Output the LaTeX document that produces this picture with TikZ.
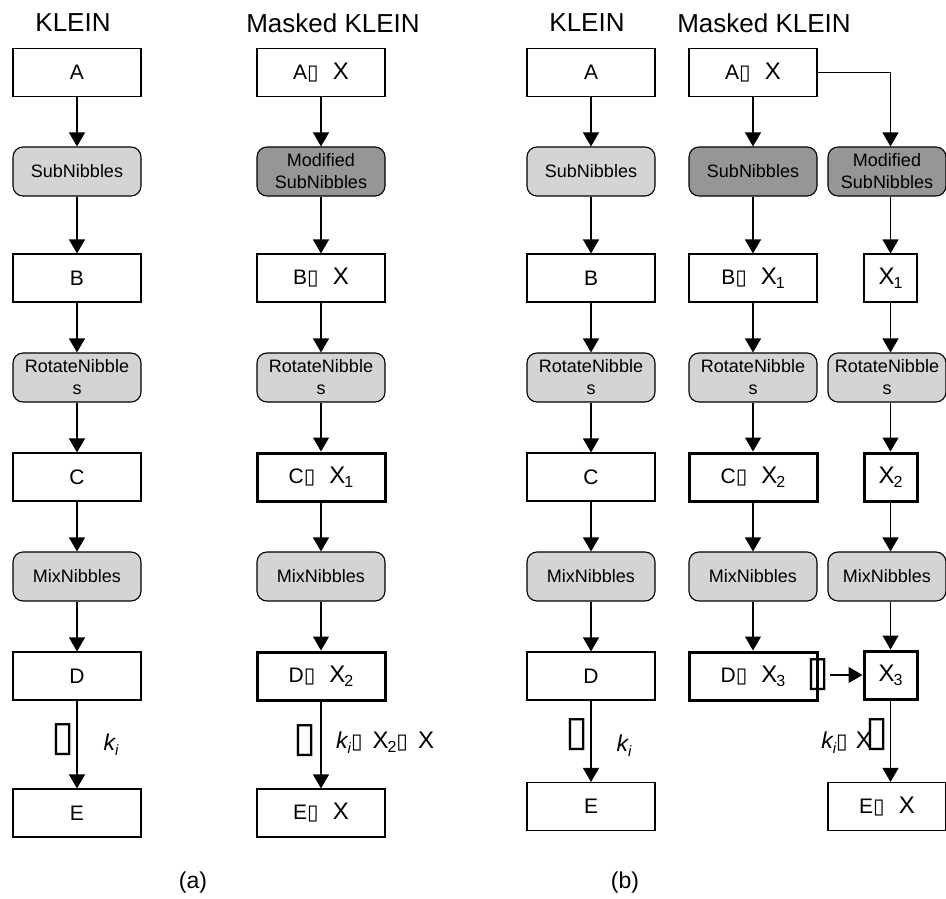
\documentclass[tikz,border=0pt]{standalone}
\usepackage{fontspec}
\setmainfont{Liberation Sans}
\newfontfamily\dejavu{DejaVu Sans}
\usetikzlibrary{arrows.meta,calc}
\definecolor{lightg}{RGB}{212,212,212}
\definecolor{darkg}{RGB}{150,150,150}
\newcommand\fsz[1]{\fontsize{#1}{22}\selectfont}
\newcommand\tf{{\dejavu\fsz{21}▯}}
\newcommand\bigtf{{\dejavu\fsz{42}▯}}
\newcommand\XX{{\fsz{24}X}}
\newcommand\Xs[1]{{\fsz{24}X}\kern-1pt\raisebox{-4pt}{\fsz{16}#1}}
\newcommand\ki{{\fsz{23}\itshape k}\raisebox{-5pt}{\fsz{15}\itshape i}}
\begin{document}
\begin{tikzpicture}[x=1pt,y=-1pt,
  box/.style={draw, line width=1.1pt, minimum width=128pt, minimum height=48pt, inner sep=0pt, font=\fsz{21}},
  tbox/.style={draw, line width=3pt, minimum width=128pt, minimum height=48pt, inner sep=0pt, font=\fsz{21}},
  sbox/.style={box, minimum width=53pt},
  tsbox/.style={tbox, minimum width=53pt},
  opl/.style={draw, line width=1.1pt, rounded corners=10pt, fill=lightg, minimum width=128pt, minimum height=49pt, inner sep=0pt, align=center, font=\fsz{18}},
  opd/.style={opl, fill=darkg},
  arr/.style={line width=1.1pt, -{Triangle[length=14pt,width=16pt]}},
  ttl/.style={font=\fsz{26}},
  tofu/.style={inner sep=0pt},
  lab/.style={inner sep=0pt}
]
\useasboundingbox (0,0) rectangle (946,899);

% titles
\node[ttl] (t1) at (73,23) {KLEIN};
\node[ttl] (t2) at (333,23) {Masked KLEIN};
\node[ttl] (t3) at (587,23) {KLEIN};
\node[ttl] (t4) at (764,23) {Masked KLEIN};

% column 1
\node[box] (a1) at (77,72.5) {A};
\node[opl] (s1) at (77,171.5) {SubNibbles};
\node[box] (b1) at (77,278) {B};
\node[opl] (r1) at (77,377.5) {RotateNibble\\s};
\node[box] (c1) at (77,477) {C};
\node[opl] (m1) at (77,576.5) {MixNibbles};
\node[box] (d1) at (77,676) {D};
\node[box] (e1) at (77,813) {E};
\node[tofu] (o1) at (63,740) {\bigtf};
\node[lab] (k1) at (111,745) {\ki};

% column 2
\node[box] (a2) at (321,72.5) {A\tf\hspace{14pt}\XX};
\node[opd] (s2) at (321,171.5) {Modified\\SubNibbles};
\node[box] (b2) at (321,278) {B\tf\hspace{14pt}\XX};
\node[opl] (r2) at (321,377.5) {RotateNibble\\s};
\node[tbox] (c2) at (321,477) {C\tf\hspace{14pt}\Xs{1}};
\node[opl] (m2) at (321,576.5) {MixNibbles};
\node[tbox] (d2) at (321,676) {D\tf\hspace{14pt}\Xs{2}};
\node[box] (e2) at (321,813) {E\tf\hspace{14pt}\XX};
\node[tofu] (o2) at (305,741) {\bigtf};
\node[lab, anchor=west] (k2) at (336,743) {\ki\tf\hspace{10pt}\Xs{2}\tf\hspace{10pt}\XX};

% column 3
\node[box] (a3) at (591,72.5) {A};
\node[opl] (s3) at (591,171.5) {SubNibbles};
\node[box] (b3) at (591,278) {B};
\node[opl] (r3) at (591,377.5) {RotateNibble\\s};
\node[box] (c3) at (591,477) {C};
\node[opl] (m3) at (591,576.5) {MixNibbles};
\node[box] (d3) at (591,676) {D};
\node[box] (e3) at (591,806.5) {E};
\node[tofu] (o3) at (577,735) {\bigtf};
\node[lab] (k3) at (624,746) {\ki};

% column 4
\node[box] (a4) at (753,72.5) {A\tf\hspace{14pt}\XX};
\node[opd] (s4) at (753,171.5) {SubNibbles};
\node[box] (b4) at (753,278) {B\tf\hspace{14pt}\Xs{1}};
\node[opl] (r4) at (753,377.5) {RotateNibble\\s};
\node[tbox] (c4) at (753,477) {C\tf\hspace{14pt}\Xs{2}};
\node[opl] (m4) at (753,576.5) {MixNibbles};
\node[tbox] (d4) at (753,676) {D\tf\hspace{14pt}\Xs{3}};
\node[tofu] (o4) at (818,675) {\bigtf};

% column 5
\node[opd, minimum width=118pt] (s5) at (887,171.5) {Modified\\SubNibbles};
\node[sbox] (x1) at (890.5,278) {\Xs{1}};
\node[opl, minimum width=118pt] (r5) at (887,377.5) {RotateNibble\\s};
\node[tsbox] (x2) at (890.5,477) {\Xs{2}};
\node[opl, minimum width=118pt] (m5) at (887,576.5) {MixNibbles};
\node[tsbox] (x3) at (890.5,675) {\Xs{3}};
\node[box, minimum width=118pt] (e5) at (887,806.5) {E\tf\hspace{14pt}\XX};
\node[lab, anchor=east] (k5) at (872,743) {\ki\tf\hspace{8pt}\XX};
\node[tofu] (o5) at (877,735) {\bigtf};

% captions
\node[font=\fsz{23}] (ca) at (193,883) {(a)};
\node[font=\fsz{23}] (cb) at (625,883) {(b)};

% connectors
\foreach \c in {1,2,3}{
  \draw[arr] (a\c) -- (s\c);
  \draw[arr] (s\c) -- (b\c);
  \draw[arr] (b\c) -- (r\c);
  \draw[arr] (r\c) -- (c\c);
  \draw[arr] (c\c) -- (m\c);
  \draw[arr] (m\c) -- (d\c);
  \draw[arr] (d\c) -- (e\c);
}
\draw[arr] (a4) -- (s4);
\draw[arr] (s4) -- (b4);
\draw[arr] (b4) -- (r4);
\draw[arr] (r4) -- (c4);
\draw[arr] (c4) -- (m4);
\draw[arr] (m4) -- (d4);
\draw[arr] (a4.east) -| (s5.north -| x1.north);
\draw[arr] (s5.south -| x1.north) -- (x1.north);
\draw[arr] (x1.south) -- (r5.north -| x1.south);
\draw[arr] (r5.south -| x2.north) -- (x2.north);
\draw[arr] (x2.south) -- (m5.north -| x2.south);
\draw[arr] (m5.south -| x3.north) -- (x3.north);
\draw[arr] (x3.south) -- (e5.north -| x3.south);
\draw[arr] (o4.east) -- (x3.west |- o4.east);
\end{tikzpicture}
\end{document}
